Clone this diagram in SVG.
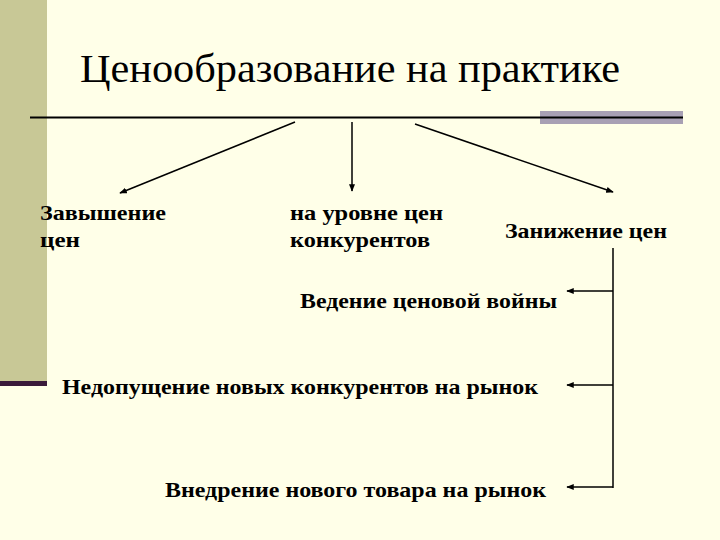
<svg xmlns="http://www.w3.org/2000/svg" width="720" height="540" viewBox="0 0 720 540">
<defs>
<marker id="ah" viewBox="0 0 10 10" refX="9" refY="5" markerWidth="5" markerHeight="5" orient="auto"><path d="M0,1 L10,5 L0,9 z" fill="#000"/></marker>
<style>
text{font-family:'Liberation Serif','DejaVu Serif','Times New Roman',serif;fill:#000}
.b{font-weight:bold;font-size:21px}
.c{stroke:#000;stroke-width:1.5;fill:none}
.a{marker-end:url(#ah)}
</style>
</defs>
<rect width="720" height="540" fill="#FFFFE8"/>
<rect x="0" y="0" width="47" height="383" fill="#C8C896"/>
<rect x="0" y="381" width="47" height="5" fill="#3A1A3A"/>
<rect x="540" y="111" width="143" height="13" fill="#A8A0B4"/>
<line x1="30" y1="117.5" x2="683" y2="117.5" stroke="#000" stroke-width="2"/>
<g id="title"><text x="80" y="82" font-size="39" textLength="540" lengthAdjust="spacingAndGlyphs">Ценообразование на практике</text></g>
<g id="n1"><text class="b" x="40" y="220" textLength="126" lengthAdjust="spacingAndGlyphs">Завышение</text><text class="b" x="40" y="247" textLength="40" lengthAdjust="spacingAndGlyphs">цен</text></g>
<g id="n2"><text class="b" x="290" y="220" textLength="153" lengthAdjust="spacingAndGlyphs">на уровне цен</text><text class="b" x="290" y="247" textLength="140" lengthAdjust="spacingAndGlyphs">конкурентов</text></g>
<g id="n3"><text class="b" x="505" y="238" textLength="162" lengthAdjust="spacingAndGlyphs">Занижение цен</text></g>
<g id="n4"><text class="b" x="300" y="308" textLength="257" lengthAdjust="spacingAndGlyphs">Ведение ценовой войны</text></g>
<g id="n5"><text class="b" x="62" y="394" textLength="476" lengthAdjust="spacingAndGlyphs">Недопущение новых конкурентов на рынок</text></g>
<g id="n6"><text class="b" x="165" y="497" textLength="381" lengthAdjust="spacingAndGlyphs">Внедрение нового товара на рынок</text></g>
<g id="connectors">
<line class="c a" x1="295" y1="122" x2="120" y2="193"/>
<line class="c a" x1="352" y1="122" x2="352" y2="191"/>
<line class="c a" x1="415" y1="124" x2="613" y2="192"/>
<line class="c" x1="613" y1="248" x2="613" y2="488"/>
<line class="c a" x1="613" y1="291" x2="567" y2="291"/>
<line class="c a" x1="613" y1="385" x2="567" y2="385"/>
<line class="c a" x1="613" y1="487" x2="567" y2="487"/>
</g>
</svg>
